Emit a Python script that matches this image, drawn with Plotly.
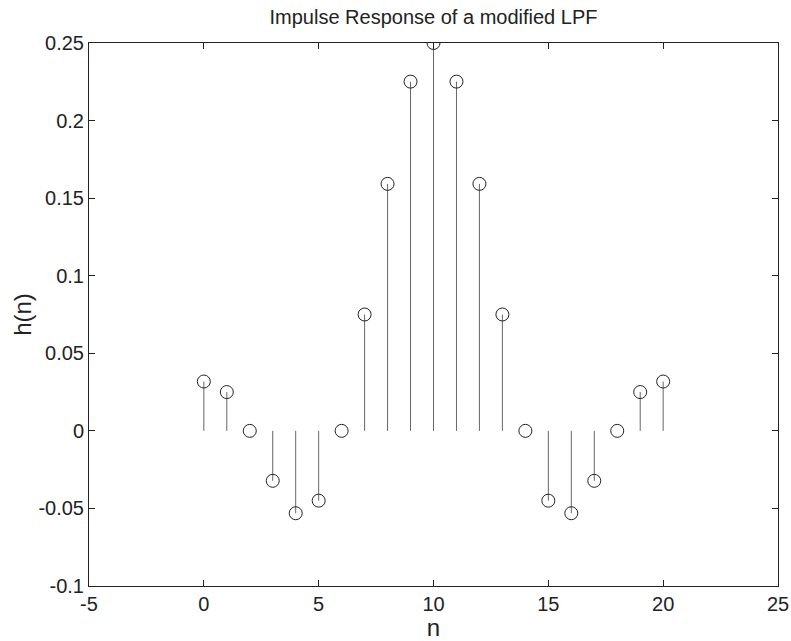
import plotly.graph_objects as go

n = list(range(21))
h = [0.0318, 0.0250, 0.0, -0.0322, -0.0531, -0.0450, 0.0, 0.0750, 0.1592, 0.2251, 0.2500,
     0.2251, 0.1592, 0.0750, 0.0, -0.0450, -0.0531, -0.0322, 0.0, 0.0250, 0.0318]

x_ticks = [-5, 0, 5, 10, 15, 20, 25]
x_tick_text = ["-5", "0", "5", "10", "15", "20", "25"]
y_ticks = [-0.1, -0.05, 0, 0.05, 0.1, 0.15, 0.2, 0.25]
y_tick_text = ["-0.1", "-0.05", "0", "0.05", "0.1", "0.15", "0.2", "0.25"]

sx, sy = [], []
for xi, yi in zip(n, h):
    sx += [xi, xi, None]
    sy += [0, yi, None]

fig = go.Figure()
fig.add_trace(go.Scatter(x=sx, y=sy, mode="lines",
                         line=dict(color="#666666", width=1), hoverinfo="skip", showlegend=False))
fig.add_trace(go.Scatter(x=n, y=h, mode="markers",
                         marker=dict(symbol="circle-open", size=13, color="#222222", line=dict(width=1)),
                         showlegend=False))

font = "Liberation Sans, Arial, sans-serif"
fig.update_layout(
    template="none",
    width=791, height=641,
    margin=dict(l=89, r=13, t=43, b=55),
    plot_bgcolor="white", paper_bgcolor="white",
    font=dict(family=font, size=20, color="#222222"),
    title=dict(text="Impulse Response of a modified LPF", x=0.5, xref="paper",
               y=0.974, yref="container", yanchor="middle", font=dict(size=20)),
    xaxis=dict(range=[-5, 25], tickvals=x_ticks, ticktext=x_tick_text, automargin=False,
               showgrid=False, zeroline=False, showline=True, linecolor="#222222",
               linewidth=1, mirror="ticks", ticks="inside", ticklen=6, tickcolor="#222222",
               title=dict(text="n", standoff=4)),
    yaxis=dict(range=[-0.1, 0.25], tickvals=y_ticks, ticktext=y_tick_text, automargin=False,
               showgrid=False, zeroline=False, showline=True, linecolor="#222222",
               linewidth=1, mirror="ticks", ticks="inside", ticklen=6, tickcolor="#222222",
               title=dict(text="h(n)", standoff=0)),
)

fig.write_html("out.html", config={"displayModeBar": False},
               post_script="document.body.style.margin='0';document.body.style.overflow='hidden';")
